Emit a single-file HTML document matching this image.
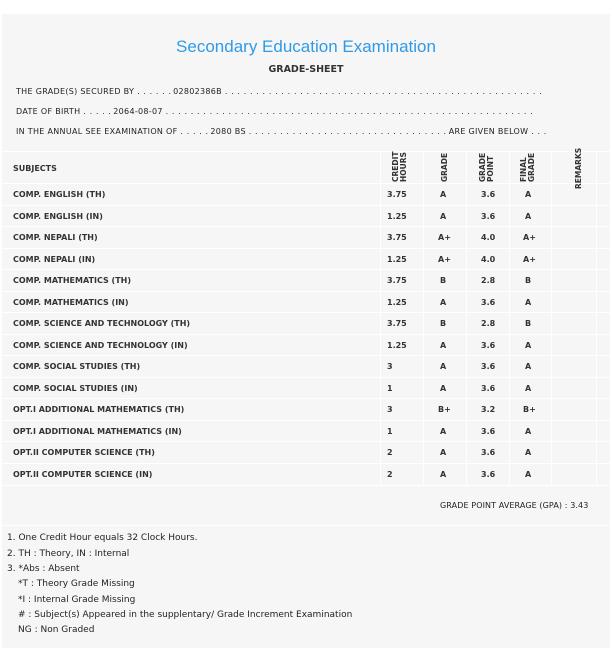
<!DOCTYPE html>
<html><head><meta charset="utf-8"><style>
*{margin:0;padding:0;box-sizing:border-box}
body{width:612px;height:649px;background:#fff;font-family:"DejaVu Sans","Liberation Sans",sans-serif;color:#333;position:relative;overflow:hidden}
#panel{position:absolute;left:1px;top:13px;width:610px;height:636px;background:#f6f6f6;border:1px solid #fff}
.a{position:absolute;white-space:nowrap}
.t{font-size:8px;font-weight:bold}
.h{font-size:8px;color:#222;letter-spacing:0.3px}
.hl{position:absolute;left:1px;width:609px;height:1px;background:#fff}
.vl{position:absolute;width:1px;background:#fff;top:151px;height:334px}
.rot{position:absolute;transform:rotate(-90deg);transform-origin:left top;font-size:7.5px;font-weight:bold;line-height:7.5px;text-align:left;width:60px;white-space:nowrap}
.n{font-size:9px;color:#222}
.d{display:inline-block;overflow:hidden;vertical-align:bottom;letter-spacing:0.6px}
</style></head><body>
<div id="panel"></div>
<div class="a" style="left:0;width:612px;text-align:center;top:37px;font-size:17px;color:#2f9ae8;font-family:'Liberation Sans',sans-serif">Secondary Education Examination</div>
<div class="a t" style="left:0;width:612px;text-align:center;top:64px;font-size:9.5px">GRADE-SHEET</div>
<div class="a h" style="left:16px;top:87px">THE GRADE(S) SECURED BY <span class="d" style="width:36px">. . . . . . . . . . . .</span>02802386B <span class="d" style="width:318px">. . . . . . . . . . . . . . . . . . . . . . . . . . . . . . . . . . . . . . . . . . . . . . . . . . . . . . . . . . . . . . . . . . . . . . . . . . . . . . . . . . . . . . . . . . . . . . . . . . . .</span></div>
<div class="a h" style="left:16px;top:107px">DATE OF BIRTH <span class="d" style="width:30px">. . . . . . . . . .</span>2064-08-07 <span class="d" style="width:368px">. . . . . . . . . . . . . . . . . . . . . . . . . . . . . . . . . . . . . . . . . . . . . . . . . . . . . . . . . . . . . . . . . . . . . . . . . . . . . . . . . . . . . . . . . . . . . . . . . . . . . . . . . . . . . . . . . . . . . . . . .</span></div>
<div class="a h" style="left:16px;top:127px">IN THE ANNUAL SEE EXAMINATION OF <span class="d" style="width:30px">. . . . . . . . . .</span>2080 BS <span class="d" style="width:200px">. . . . . . . . . . . . . . . . . . . . . . . . . . . . . . . . . . . . . . . . . . . . . . . . . . . . . . . . . . . . .</span>ARE GIVEN BELOW <span class="d" style="width:16px">. . . . .</span></div>
<div class="hl" style="top:151px"></div>
<div class="hl" style="top:183px"></div>
<div class="vl" style="left:380px"></div><div class="vl" style="left:423px"></div><div class="vl" style="left:466px"></div><div class="vl" style="left:509px"></div><div class="vl" style="left:551px"></div><div class="vl" style="left:596px"></div>
<div class="a t" style="left:13px;top:164px">SUBJECTS</div>
<div class="rot" style="left:392px;top:182px">CREDIT<br>HOURS</div>
<div class="rot" style="left:441px;top:182px">GRADE</div>
<div class="rot" style="left:479px;top:182px">GRADE<br>POINT</div>
<div class="rot" style="left:520px;top:182px">FINAL<br>GRADE</div>
<div class="rot" style="left:575px;top:189px">REMARKS</div>
<div class="hl" style="top:485px"></div>
<div class="hl" style="top:525px"></div>
<div class="a h" style="left:440px;top:501px;letter-spacing:0.1px">GRADE POINT AVERAGE (GPA) : 3.43</div>
<div class="a n" style="left:7px;top:533px">1. One Credit Hour equals 32 Clock Hours.</div>
<div class="a n" style="left:7px;top:549px">2. TH : Theory, IN : Internal</div>
<div class="a n" style="left:7px;top:564px">3. *Abs : Absent</div>
<div class="a n" style="left:18px;top:579px">*T : Theory Grade Missing</div>
<div class="a n" style="left:18px;top:595px">*I : Internal Grade Missing</div>
<div class="a n" style="left:18px;top:610px"># : Subject(s) Appeared in the supplentary/ Grade Increment Examination</div>
<div class="a n" style="left:18px;top:625px">NG : Non Graded</div>
<div class="a t" style="left:13px;top:190px">COMP. ENGLISH (TH)</div><div class="a t" style="left:387px;top:190px">3.75</div><div class="a t" style="left:440px;top:190px">A</div><div class="a t" style="left:481px;top:190px">3.6</div><div class="a t" style="left:525px;top:190px">A</div><div class="hl" style="top:205px"></div>
<div class="a t" style="left:13px;top:212px">COMP. ENGLISH (IN)</div><div class="a t" style="left:387px;top:212px">1.25</div><div class="a t" style="left:440px;top:212px">A</div><div class="a t" style="left:481px;top:212px">3.6</div><div class="a t" style="left:525px;top:212px">A</div><div class="hl" style="top:226px"></div>
<div class="a t" style="left:13px;top:233px">COMP. NEPALI (TH)</div><div class="a t" style="left:387px;top:233px">3.75</div><div class="a t" style="left:438px;top:233px">A+</div><div class="a t" style="left:481px;top:233px">4.0</div><div class="a t" style="left:523px;top:233px">A+</div><div class="hl" style="top:248px"></div>
<div class="a t" style="left:13px;top:255px">COMP. NEPALI (IN)</div><div class="a t" style="left:387px;top:255px">1.25</div><div class="a t" style="left:438px;top:255px">A+</div><div class="a t" style="left:481px;top:255px">4.0</div><div class="a t" style="left:523px;top:255px">A+</div><div class="hl" style="top:269px"></div>
<div class="a t" style="left:13px;top:276px">COMP. MATHEMATICS (TH)</div><div class="a t" style="left:387px;top:276px">3.75</div><div class="a t" style="left:440px;top:276px">B</div><div class="a t" style="left:481px;top:276px">2.8</div><div class="a t" style="left:525px;top:276px">B</div><div class="hl" style="top:291px"></div>
<div class="a t" style="left:13px;top:298px">COMP. MATHEMATICS (IN)</div><div class="a t" style="left:387px;top:298px">1.25</div><div class="a t" style="left:440px;top:298px">A</div><div class="a t" style="left:481px;top:298px">3.6</div><div class="a t" style="left:525px;top:298px">A</div><div class="hl" style="top:312px"></div>
<div class="a t" style="left:13px;top:319px">COMP. SCIENCE AND TECHNOLOGY (TH)</div><div class="a t" style="left:387px;top:319px">3.75</div><div class="a t" style="left:440px;top:319px">B</div><div class="a t" style="left:481px;top:319px">2.8</div><div class="a t" style="left:525px;top:319px">B</div><div class="hl" style="top:334px"></div>
<div class="a t" style="left:13px;top:341px">COMP. SCIENCE AND TECHNOLOGY (IN)</div><div class="a t" style="left:387px;top:341px">1.25</div><div class="a t" style="left:440px;top:341px">A</div><div class="a t" style="left:481px;top:341px">3.6</div><div class="a t" style="left:525px;top:341px">A</div><div class="hl" style="top:355px"></div>
<div class="a t" style="left:13px;top:362px">COMP. SOCIAL STUDIES (TH)</div><div class="a t" style="left:387px;top:362px">3</div><div class="a t" style="left:440px;top:362px">A</div><div class="a t" style="left:481px;top:362px">3.6</div><div class="a t" style="left:525px;top:362px">A</div><div class="hl" style="top:377px"></div>
<div class="a t" style="left:13px;top:384px">COMP. SOCIAL STUDIES (IN)</div><div class="a t" style="left:387px;top:384px">1</div><div class="a t" style="left:440px;top:384px">A</div><div class="a t" style="left:481px;top:384px">3.6</div><div class="a t" style="left:525px;top:384px">A</div><div class="hl" style="top:398px"></div>
<div class="a t" style="left:13px;top:405px">OPT.I ADDITIONAL MATHEMATICS (TH)</div><div class="a t" style="left:387px;top:405px">3</div><div class="a t" style="left:438px;top:405px">B+</div><div class="a t" style="left:481px;top:405px">3.2</div><div class="a t" style="left:523px;top:405px">B+</div><div class="hl" style="top:420px"></div>
<div class="a t" style="left:13px;top:427px">OPT.I ADDITIONAL MATHEMATICS (IN)</div><div class="a t" style="left:387px;top:427px">1</div><div class="a t" style="left:440px;top:427px">A</div><div class="a t" style="left:481px;top:427px">3.6</div><div class="a t" style="left:525px;top:427px">A</div><div class="hl" style="top:441px"></div>
<div class="a t" style="left:13px;top:448px">OPT.II COMPUTER SCIENCE (TH)</div><div class="a t" style="left:387px;top:448px">2</div><div class="a t" style="left:440px;top:448px">A</div><div class="a t" style="left:481px;top:448px">3.6</div><div class="a t" style="left:525px;top:448px">A</div><div class="hl" style="top:463px"></div>
<div class="a t" style="left:13px;top:470px">OPT.II COMPUTER SCIENCE (IN)</div><div class="a t" style="left:387px;top:470px">2</div><div class="a t" style="left:440px;top:470px">A</div><div class="a t" style="left:481px;top:470px">3.6</div><div class="a t" style="left:525px;top:470px">A</div>
</body></html>
